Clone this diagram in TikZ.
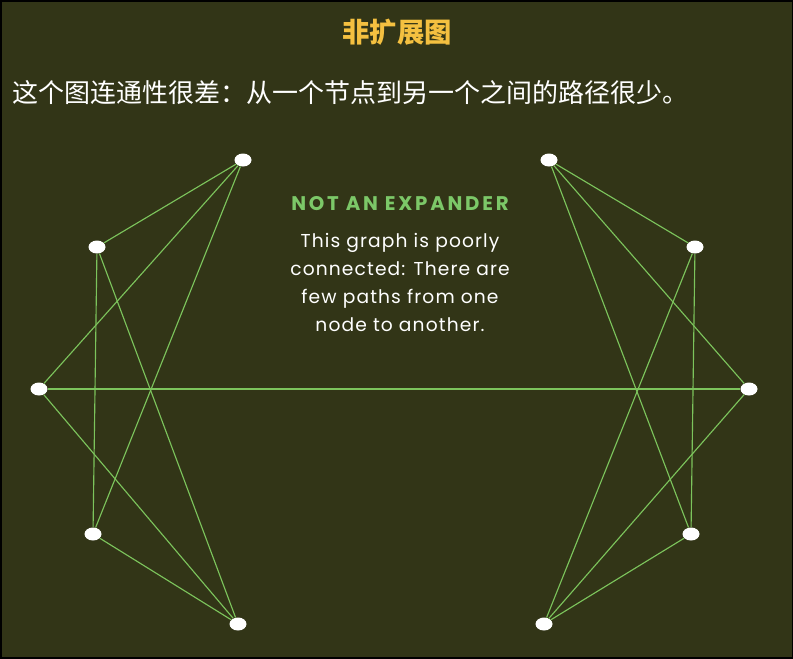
\documentclass[tikz,border=0pt]{standalone}
\usepackage{fontspec}
\setmainfont{Poppins}
\newfontfamily\cjk{Noto Sans CJK SC}
\usetikzlibrary{shapes.geometric}
\definecolor{bgc}{RGB}{50,53,23}
\definecolor{edgec}{RGB}{124,196,92}
\definecolor{titlec}{RGB}{244,192,64}
\definecolor{headc}{RGB}{124,200,104}
\tikzset{
  vtx/.style={ellipse, fill=white, draw=none, minimum width=12.75pt, minimum height=9.75pt, inner sep=0pt},
  lnk/.style={draw=edgec, line width=0.85pt},
}
\begin{document}
\begin{tikzpicture}[x=0.75pt, y=-0.75pt]
\useasboundingbox (0,0) rectangle (793,658);
\fill[bgc] (0,0) rectangle (793,658);
\draw[black, line width=1.5pt] (0.5,0.5) rectangle (792.5,657.5);
% texts
\node (title) at (397,32) {\cjk\bfseries\fontsize{20.5pt}{22pt}\selectfont\color{titlec}非扩展图};
\node[anchor=west] (sub) at (8,93) {\cjk\fontsize{19.5pt}{22pt}\selectfont\color{white}这个图连通性很差：从一个节点到另一个之间的路径很少。};
\node (head) at (400,204) {\bfseries\fontsize{14.8pt}{16pt}\selectfont\addfontfeatures{LetterSpace=14}\color{headc}NOT AN EXPANDER};
\node[align=center, text=white, font=\fontsize{14pt}{21pt}\selectfont\addfontfeatures{LetterSpace=6}] (body) at (400,282) {This graph is poorly\\connected: There are\\few paths from one\\node to another.};
% nodes
\node[vtx] (a) at (243,160) {};
\node[vtx] (b) at (97,247) {};
\node[vtx] (c) at (39,389) {};
\node[vtx] (d) at (93,534) {};
\node[vtx] (e) at (238,624) {};
\node[vtx] (f) at (549,160) {};
\node[vtx] (g) at (695,247) {};
\node[vtx] (h) at (749,389) {};
\node[vtx] (i) at (691,534) {};
\node[vtx] (j) at (544,624) {};
% edges
\draw[lnk] (a) -- (b);
\draw[lnk] (a) -- (c);
\draw[lnk] (a) -- (d);
\draw[lnk] (b) -- (d);
\draw[lnk] (b) -- (e);
\draw[lnk] (c) -- (e);
\draw[lnk] (d) -- (e);
\draw[lnk] (c) -- (h);
\draw[lnk] (f) -- (g);
\draw[lnk] (f) -- (h);
\draw[lnk] (f) -- (i);
\draw[lnk] (g) -- (i);
\draw[lnk] (g) -- (j);
\draw[lnk] (h) -- (j);
\draw[lnk] (i) -- (j);
\end{tikzpicture}
\end{document}
